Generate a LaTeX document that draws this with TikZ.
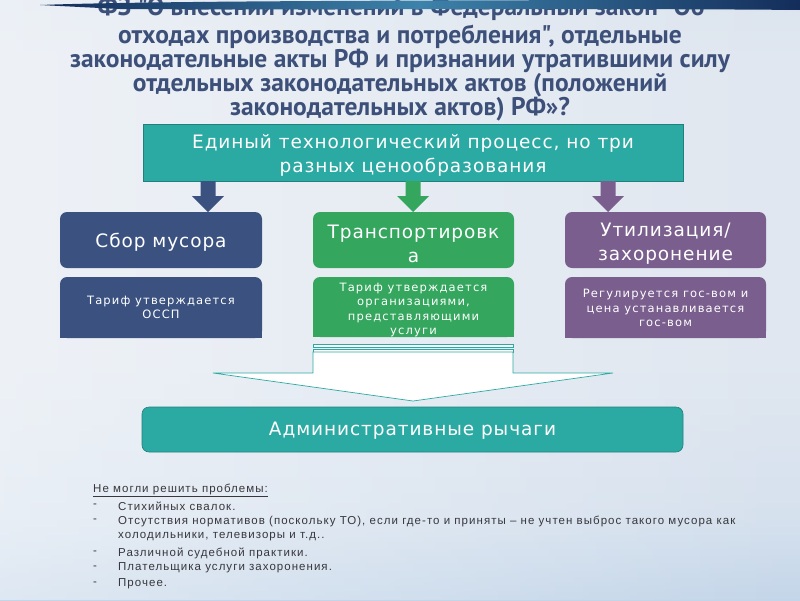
\documentclass[tikz,border=0pt]{standalone}
\usepackage{fontspec}
\usetikzlibrary{shadings,fadings}
\setmainfont{DejaVu Sans}
\newfontfamily\titlefont{PT Sans}
\newfontfamily\boxfont[LetterSpace=5]{DejaVu Sans}
\newfontfamily\smallfont[LetterSpace=10]{DejaVu Sans}
\newfontfamily\listfont[LetterSpace=9]{Liberation Sans}
\definecolor{tealc}{RGB}{43,170,163}
\definecolor{tealb}{RGB}{32,128,124}
\definecolor{navyc}{RGB}{59,82,129}
\definecolor{greenc}{RGB}{52,166,94}
\definecolor{purplec}{RGB}{122,94,142}
\definecolor{titlec}{RGB}{61,80,121}
\definecolor{listc}{RGB}{55,55,60}
\definecolor{bgT}{RGB}{198,213,231}
\definecolor{bgM}{RGB}{224,231,240}
\definecolor{bgMb}{RGB}{214,225,238}
\definecolor{bgB}{RGB}{182,205,229}
\definecolor{stripeA}{RGB}{20,45,90}
\definecolor{stripeB}{RGB}{60,130,170}
\pgfdeclareverticalshading{bgshade}{100bp}{color(0bp)=(bgB); color(20bp)=(bgB); color(32bp)=(bgMb); color(45bp)=(bgM); color(70bp)=(bgM); color(100bp)=(bgT)}
\tikzset{
  titletxt/.style={text=titlec, font=\titlefont\bfseries\fontsize{25.5}{24}\selectfont, inner sep=0},
  bigtxt/.style={text=white, font=\boxfont\fontsize{18.5}{24}\selectfont, align=center, inner sep=0},
  smalltxt/.style={text=white, font=\smallfont\fontsize{11.5}{14.5}\selectfont, align=center, inner sep=0},
  listtxt/.style={text=listc, font=\listfont\fontsize{11.5}{13}\selectfont, anchor=west, inner sep=0},
}
\begin{document}
\begin{tikzpicture}[x=1pt,y=-1pt]
\useasboundingbox (0,0) rectangle (800,600);
% background
\shade[shading=bgshade] (0,0) rectangle (800,600);
\fill[white, opacity=0.45, path fading=east] (0,0) rectangle (800,600);
% title
\node[titletxt] (t1) at (401,9) {ФЗ "О внесении изменений в Федеральный закон "Об};
\node[titletxt] (t2) at (400,37) {отходах производства и потребления", отдельные};
\node[titletxt] (t3) at (400,61) {законодательные акты РФ и признании утратившими силу};
\node[titletxt] (t4) at (400,85) {отдельных законодательных актов (положений};
\node[titletxt] (t5) at (400,109) {законодательных актов) РФ»?};
% top stripe
\shade[left color=stripeA, right color=stripeA, middle color=stripeB]
  (40,5) .. controls (120,2) and (300,0) .. (800,0) -- (800,10)
  .. controls (600,8) and (300,10) .. (120,9) -- cycle;
% top box
\node[fill=tealc, draw=tealb, line width=0.6pt, minimum width=540, minimum height=57, inner sep=0] (top) at (413,152.5) {};
\node[bigtxt] (toptxt) at (413,155) {Единый технологический процесс, но три\\разных ценообразования};
% arrow coordinates
\coordinate (a1) at (208,181);
\coordinate (a2) at (413,181);
\coordinate (a3) at (608,181);
\foreach \c/\col in {a1/navyc,a2/greenc,a3/purplec}{
  \fill[\col] (\c) ++(-7.5,0) -- ++(0,15) -- ++(-8.5,0) -- ++(16,16) -- ++(16,-16) -- ++(-8.5,0) -- ++(0,-15) -- cycle;
}
% row 1
\node[fill=navyc, rounded corners=7, minimum width=202, minimum height=56, inner sep=0] (b1) at (161,240) {};
\node[fill=greenc, rounded corners=7, minimum width=201, minimum height=56, inner sep=0] (b2) at (413.5,240) {};
\node[fill=purplec, rounded corners=7, minimum width=201, minimum height=56, inner sep=0] (b3) at (665.5,240) {};
\node[bigtxt] at (161,242) {Сбор мусора};
\node[bigtxt] at (413.5,244) {Транспортировк\\а};
\node[bigtxt] at (665.5,244) {Утилизация/\\захоронение};
% row 2 shapes (top corners rounded)
\fill[navyc, rounded corners=7] (60,277) rectangle (262,338);
\fill[navyc] (60,300) rectangle (262,338);
\fill[greenc, rounded corners=7] (313,277) rectangle (514,337);
\fill[greenc] (313,300) rectangle (514,337);
\fill[purplec, rounded corners=7] (565,277) rectangle (766,338);
\fill[purplec] (565,300) rectangle (766,338);
\node[smalltxt] (c1) at (161,307.5) {Тариф утверждается\\ОССП};
\node[smalltxt] (c2) at (413.5,310) {Тариф утверждается\\организациями,\\представляющими\\услуги};
\node[smalltxt] (c3) at (665.5,308) {Регулируется гос-вом и\\цена устанавливается\\гос-вом};
% big white arrow
\draw[tealc, fill=white, line width=0.7pt] (313,344) rectangle (513,347);
\draw[tealc, fill=white, line width=0.7pt] (313,349) rectangle (513,352);
\draw[tealc, fill=white, line width=0.7pt] (313,352) -- (313,373) -- (213,373) -- (413,401) -- (613,373) -- (513,373) -- (513,352) -- cycle;
% admin box
\node[fill=tealc, draw=tealb, line width=0.6pt, rounded corners=7, minimum width=541, minimum height=45, inner sep=0] (adm) at (412.5,429.5) {};
\node[bigtxt] at (412.5,431) {Административные рычаги};
% list
\node[listtxt] (h) at (93,490) {\underline{Не могли решить проблемы:}};
\foreach \y/\t in {506/Стихийных свалок.,
  521/{Отсутствия нормативов (поскольку ТО), если где-то и приняты – не учтен выброс такого мусора как},
  553/Различной судебной практики.,
  568/Плательщика услуги захоронения.,
  584/Прочее.}{
  \node[listtxt] at (93,\y) {-};
  \node[listtxt] at (118,\y) {\t};
}
\node[listtxt] at (118,537) {холодильники, телевизоры и т.д..};
\end{tikzpicture}
\end{document}
